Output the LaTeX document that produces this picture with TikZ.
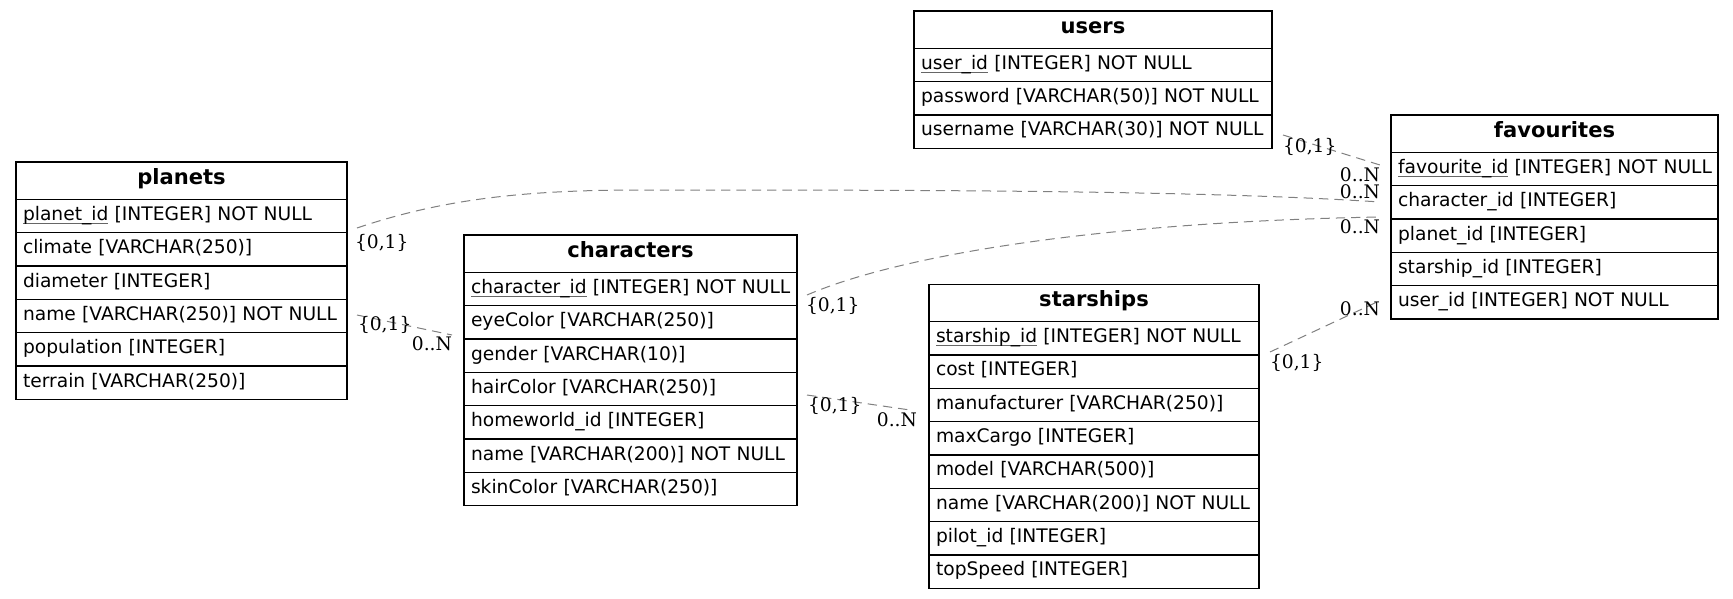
\documentclass[tikz,border=0pt]{standalone}
\usepackage{fontspec}
\setmainfont{DejaVu Sans}
\newfontfamily\lblfont{DejaVu Serif}
\newcommand{\pkul}[1]{\setbox0=\hbox{#1}\rlap{\color{black!60}\rule[-2.6pt]{\wd0}{0.7pt}}\box0}
\newcommand{\rowtext}[1]{\hbox to\hsize{#1\hss}}
\tikzset{
  tabbox/.style={draw=black, line width=0.8pt, inner sep=0pt, outer sep=0pt,
    font=\fontsize{14pt}{17pt}\selectfont},
  tabhead/.style={tabbox, minimum height=28pt, text height=11.7pt, text depth=6.3pt,
    align=center, font=\fontsize{15.8pt}{19pt}\selectfont\bfseries},
  tabrow/.style={tabbox, minimum height=25pt, text height=10.5pt, text depth=4pt, align=left},
  rel/.style={draw=black!50, line width=0.75pt, dash pattern=on 7pt off 4.5pt},
  card/.style={font=\lblfont\fontsize{14pt}{17pt}\selectfont, inner sep=0pt, outer sep=0pt},
}
\newcommand{\erTable}[8]{%
  \pgfmathsetmacro\erW{#4*0.75}%
  \pgfmathsetmacro\erT{(#4-14)*0.75}%
  \node[tabhead, minimum width=\erW pt, text width=\erT pt, anchor=north west] (#1-h) at (#2,#3) {#5};
  \node[tabrow, minimum width=\erW pt, text width=\erT pt, anchor=north west] (#1-1) at (#1-h.south west) {\rowtext{\pkul{#6}\ #7}};
  \foreach \r [count=\i from 2] in {#8} {%
    \pgfmathtruncatemacro\j{\i-1}%
    \node[tabrow, minimum width=\erW pt, text width=\erT pt, anchor=north west] (#1-\i) at (#1-\j.south west) {\rowtext{\r}};
  }%
}
\begin{document}
\begin{tikzpicture}[x=0.75pt, y=-0.75pt]
\useasboundingbox (0,0) rectangle (1733,599);
\fill[white] (0,0) rectangle (1733,599);

% tables
\erTable{planets}{16}{162}{331}{planets}{planet\_id}{[INTEGER] NOT NULL}%
  {climate [VARCHAR(250)], diameter [INTEGER], name [VARCHAR(250)] NOT NULL, population [INTEGER], terrain [VARCHAR(250)]}
\erTable{characters}{464}{235}{333}{characters}{character\_id}{[INTEGER] NOT NULL}%
  {eyeColor [VARCHAR(250)], gender [VARCHAR(10)], hairColor [VARCHAR(250)], homeworld\_id [INTEGER], name [VARCHAR(200)] NOT NULL, skinColor [VARCHAR(250)]}
\erTable{users}{914}{11}{358}{users}{user\_id}{[INTEGER] NOT NULL}%
  {password [VARCHAR(50)] NOT NULL, username [VARCHAR(30)] NOT NULL}
\erTable{favourites}{1391}{115}{327}{favourites}{favourite\_id}{[INTEGER] NOT NULL}%
  {character\_id [INTEGER], planet\_id [INTEGER], starship\_id [INTEGER], user\_id [INTEGER] NOT NULL}
\erTable{starships}{929}{284.3}{330}{starships}{starship\_id}{[INTEGER] NOT NULL}%
  {cost [INTEGER], manufacturer [VARCHAR(250)], maxCargo [INTEGER], model [VARCHAR(500)], name [VARCHAR(200)] NOT NULL, pilot\_id [INTEGER], topSpeed [INTEGER]}

% connector end points
\coordinate (usersOut) at (1283,135);
\coordinate (favUsersIn) at (1380,165);
\coordinate (planetsOut) at (357,228);
\coordinate (favPlanetsIn) at (1380,202);
\coordinate (charsOut) at (807,295);
\coordinate (favCharsIn) at (1380,217);
\coordinate (planetsNameOut) at (357,315);
\coordinate (charsIn) at (452,335);
\coordinate (charsHairOut) at (807,395);
\coordinate (shipsIn) at (910,410);
\coordinate (shipsOut) at (1270,352);
\coordinate (favShipsIn) at (1377,302);

% connectors
\draw[rel] (usersOut) -- (favUsersIn);
\draw[rel] (planetsOut) .. controls (440,200) and (520,190) .. (640,190)
  .. controls (900,190) and (1200,190) .. (favPlanetsIn);
\draw[rel] (charsOut) .. controls (900,255) and (1100,222) .. (favCharsIn);
\draw[rel] (planetsNameOut) -- (charsIn);
\draw[rel] (charsHairOut) -- (shipsIn);
\draw[rel] (shipsOut) -- (favShipsIn);

% cardinality labels
\node[card, anchor=base west] (cUsers) at (1283,152) {\{0,1\}};
\node[card, anchor=base east] (cFavU) at (1380,181.7) {0..N};
\node[card, anchor=base east] (cFavP) at (1380,198.3) {0..N};
\node[card, anchor=base east] (cFavC) at (1380,233.3) {0..N};
\node[card, anchor=base west] (cPlan) at (355,248.3) {\{0,1\}};
\node[card, anchor=base west] (cPlanN) at (358,330) {\{0,1\}};
\node[card, anchor=base east] (cCharIn) at (452,350) {0..N};
\node[card, anchor=base west] (cChar) at (806,311.7) {\{0,1\}};
\node[card, anchor=base west] (cHair) at (808,411.7) {\{0,1\}};
\node[card, anchor=base east] (cShipIn) at (917,426.7) {0..N};
\node[card, anchor=base west] (cShip) at (1270,368) {\{0,1\}};
\node[card, anchor=base east] (cFavS) at (1380,315) {0..N};
\end{tikzpicture}
\end{document}
